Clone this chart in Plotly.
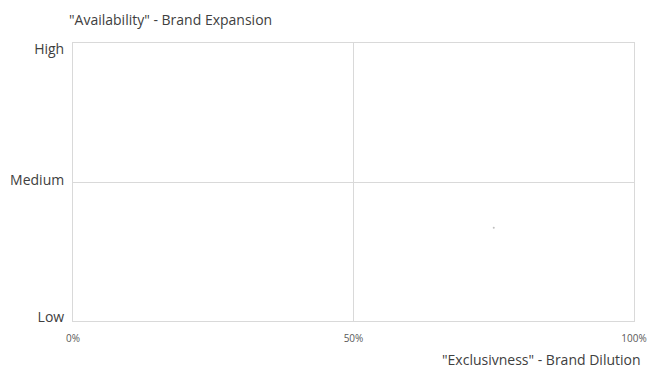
import plotly.graph_objects as go

# Data
x_tick_vals = [0, 0.5, 1]
x_tick_labels = ["0%", "50%", "100%"]
y_tick_vals = [0, 1, 2]
y_tick_labels = ["Low", "Medium", "High"]
point_x = [0.75]
point_y = [0.67]
y_title = '"Availability" - Brand Expansion'
x_title = '"Exclusivness" - Brand Dilution'

# small label nudges (in axis units) to mimic the original label placement
y_label_nudge = [0.03, 0.015, -0.045]
y_label_pos = [v + d for v, d in zip(y_tick_vals, y_label_nudge)]

fig = go.Figure()
fig.add_trace(go.Scatter(x=point_x, y=point_y, mode="markers",
                         marker=dict(size=2, color="#bfbfbf"),
                         hoverinfo="skip", showlegend=False))

grid = "#d9d9d9"
# page body has an 8px default margin, so the figure is sized/margined to compensate
fig.update_layout(
    width=656, height=361,
    margin=dict(l=65, r=30, t=35, b=48),
    paper_bgcolor="white", plot_bgcolor="white",
    font=dict(family="Open Sans", color="#404040"),
    showlegend=False,
    xaxis=dict(range=[0, 1], tickvals=x_tick_vals, ticktext=x_tick_labels,
               showgrid=True, gridcolor=grid, gridwidth=1,
               showline=True, linecolor=grid, linewidth=1, mirror=True,
               zeroline=False, ticks="outside", ticklen=8, tickcolor="rgba(0,0,0,0)",
               tickfont=dict(size=10, color="#595959"), fixedrange=True,
               automargin=False),
    yaxis=dict(range=[0, 2], tickvals=y_label_pos, ticktext=y_tick_labels,
               showgrid=False,
               minor=dict(tickvals=y_tick_vals, showgrid=True, gridcolor=grid,
                          gridwidth=1, ticks=""),
               showline=True, linecolor=grid, linewidth=1, mirror=True,
               zeroline=False, ticks="outside", ticklen=5, tickcolor="rgba(0,0,0,0)",
               tickfont=dict(size=14, color="#404040"), fixedrange=True,
               automargin=False),
    annotations=[
        dict(text=y_title, xref="paper", yref="paper", x=-0.0107, y=1.083,
             xanchor="left", yanchor="middle", showarrow=False,
             font=dict(size=14, color="#404040")),
        dict(text=x_title, xref="paper", yref="paper", x=1.016, y=-0.138,
             xanchor="right", yanchor="middle", showarrow=False,
             font=dict(size=14, color="#404040")),
    ],
)

fig.write_html("out.html")
